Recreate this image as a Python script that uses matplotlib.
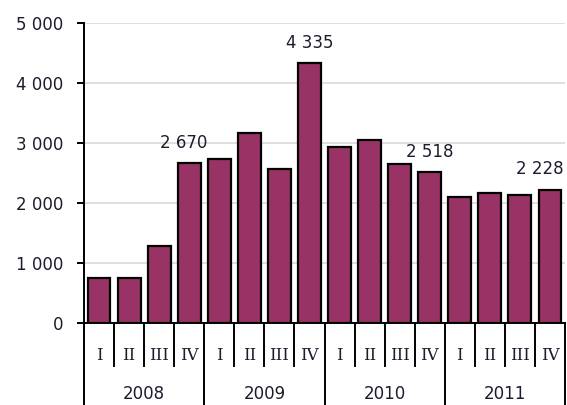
import matplotlib
matplotlib.use("Agg")
import matplotlib.pyplot as plt
import matplotlib.transforms as mtransforms

years = ["2008", "2009", "2010", "2011"]
quarters = ["I", "II", "III", "IV"]
values = [760, 760, 1290, 2670,
          2733, 3167, 2567, 4335,
          2940, 3062, 2662, 2518,
          2100, 2167, 2133, 2228]
labelled = {3: "2 670", 7: "4 335", 11: "2 518", 15: "2 228"}
yticks = [0, 1000, 2000, 3000, 4000, 5000]
ytick_labels = ["0", "1 000", "2 000", "3 000", "4 000", "5 000"]

W, H = 567, 405
fig = plt.figure(figsize=(W / 100, H / 100), dpi=100)
ax_left, ax_right = 84 / W, 565 / W
ax_bottom, ax_top = (H - 323.3) / H, (H - 23.3) / H
ax = fig.add_axes([ax_left, ax_bottom, ax_right - ax_left, ax_top - ax_bottom])

txt_color = "#1c1c2c"
fs = 12

n = len(values)
xs = list(range(n))
ax.bar(xs, values, width=0.76, color="#993366", edgecolor="black", linewidth=1.6, zorder=3)
ax.set_xlim(-0.5, n - 0.5)
ax.set_ylim(0, 5000)

ax.set_yticks(yticks)
ax.set_yticklabels(ytick_labels, fontsize=fs, color=txt_color)
ax.tick_params(axis="y", length=5, width=1.4, pad=10, direction="out", colors="black", labelcolor=txt_color)
ax.set_xticks([])
ax.grid(axis="y", color="#d9d9d9", linewidth=1.2, zorder=0)
ax.set_axisbelow(True)

for s in ["top", "right"]:
    ax.spines[s].set_visible(False)
ax.spines["left"].set_linewidth(1.4)
ax.spines["bottom"].set_linewidth(1.4)

# data labels
for i, lab in labelled.items():
    if i == n - 1:
        ax.annotate(lab, (i + 0.45, values[i]), xytext=(0, 11), textcoords="offset points",
                    ha="right", va="baseline", fontsize=fs, color=txt_color)
    elif i == 3:
        ax.annotate(lab, (i, values[i]), xytext=(-4, 11), textcoords="offset points",
                    ha="center", va="baseline", fontsize=fs, color=txt_color)
    else:
        ax.annotate(lab, (i, values[i]), xytext=(0, 11), textcoords="offset points",
                    ha="center", va="baseline", fontsize=fs, color=txt_color)

# category axis (multi-level)
trans = mtransforms.blended_transform_factory(ax.transData, ax.transAxes)
axes_h_px = 300.0
q_bottom = -(366 - 323.3) / axes_h_px
y_bottom = -(405 - 323.3) / axes_h_px
q_label_y = -(355 - 323.3) / axes_h_px
y_label_y = -(394 - 323.3) / axes_h_px

for yi in range(len(years) + 1):
    x = yi * 4 - 0.5
    ax.plot([x, x], [0, y_bottom], transform=trans, color="black", lw=1.4, clip_on=False)
for yi in range(len(years)):
    for qi in range(1, 4):
        x = yi * 4 + qi - 0.5
        ax.plot([x, x], [0, q_bottom], transform=trans, color="black", lw=1.4, clip_on=False)
    for qi, q in enumerate(quarters):
        ax.text(yi * 4 + qi, q_label_y, q, transform=trans, ha="center", va="center",
                fontsize=fs, color=txt_color, family="DejaVu Serif")
    ax.text(yi * 4 + 1.5, y_label_y, years[yi], transform=trans, ha="center", va="center",
            fontsize=fs, color=txt_color)

fig.savefig("out.png", dpi=100)
